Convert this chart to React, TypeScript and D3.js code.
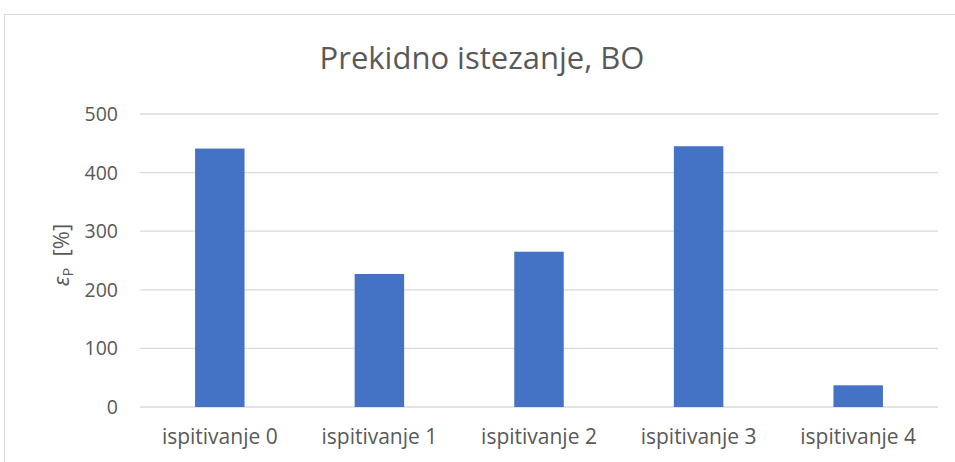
import React from 'react';
import * as d3 from 'd3';

const categories = ['ispitivanje 0', 'ispitivanje 1', 'ispitivanje 2', 'ispitivanje 3', 'ispitivanje 4'];
const values = [441, 227, 265, 445, 37];
const yTicks = [0, 100, 200, 300, 400, 500];

const W = 955;
const H = 462;
const font = "'Open Sans', sans-serif";

export default function App() {
  const margin = { top: 114, right: 17, bottom: 55, left: 140 };
  const x = d3.scaleBand().domain(categories).range([margin.left, W - margin.right]).paddingInner(0.69).paddingOuter(0.345);
  const y = d3.scaleLinear().domain([0, 500]).range([H - margin.bottom, margin.top]);

  return (
    <svg width={W} height={H} style={{ position: 'absolute', left: 0, top: 0, background: '#fff' }}>
      <rect x={4.5} y={14.5} width={W + 10} height={H + 10} fill="#fff" stroke="#d9d9d9" />
      <text x={482} y={69} textAnchor="middle" fontFamily={font} fontSize={31} fill="#595959">
        Prekidno istezanje, BO
      </text>
      {yTicks.map(t => (
        <g key={t}>
          <line x1={margin.left} x2={W - margin.right} y1={y(t)} y2={y(t)} stroke="#d9d9d9" strokeWidth={1.3} />
          <text x={118} y={y(t)} dy="0.36em" textAnchor="end" fontFamily={font} fontSize={19.5} fill="#595959">
            {t}
          </text>
        </g>
      ))}
      {categories.map((c, i) => (
        <g key={c}>
          <rect x={x(c)} y={y(values[i])} width={x.bandwidth()} height={y(0) - y(values[i])} fill="#4472c4" />
          <text x={(x(c) || 0) + x.bandwidth() / 2} y={444} textAnchor="middle" fontFamily={font} fontSize={21} fill="#595959">
            {c}
          </text>
        </g>
      ))}
      <text transform="translate(69,255) rotate(-90)" textAnchor="middle" fontFamily={font} fontSize={22} fill="#595959">
        <tspan fontStyle="italic">ε</tspan>
        <tspan fontSize={14} dy={4}>P</tspan>
        <tspan dy={-4}>{'\u00a0\u00a0[%]'}</tspan>
      </text>
    </svg>
  );
}
